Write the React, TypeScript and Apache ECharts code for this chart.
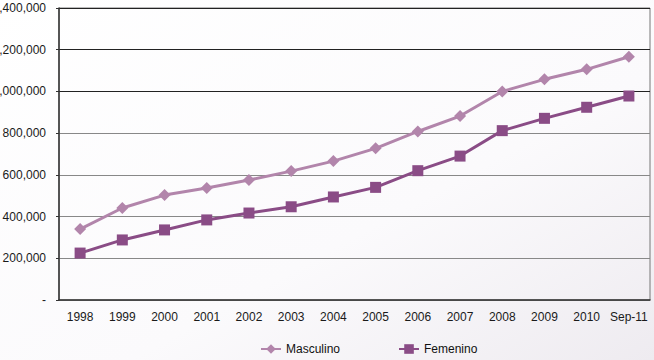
import React, { useEffect, useRef } from "react";
import * as echarts from "echarts";

const categories = ["1998", "1999", "2000", "2001", "2002", "2003", "2004", "2005", "2006", "2007", "2008", "2009", "2010", "Sep-11"];
const masculino = [340000, 441000, 503000, 537000, 575000, 618000, 666000, 727000, 808000, 882000, 1000000, 1058000, 1106000, 1166000];
const femenino = [225000, 288000, 336000, 384000, 417000, 447000, 494000, 540000, 620000, 690000, 812000, 871000, 924000, 978000];
const yTickLabels: Record<number, string> = {
  0: "-",
  200000: "200,000",
  400000: "400,000",
  600000: "600,000",
  800000: "800,000",
  1000000: "1,000,000",
  1200000: "1,200,000",
  1400000: "1,400,000",
};

export default function App() {
  const ref = useRef<HTMLDivElement>(null);
  useEffect(() => {
    if (!ref.current) return;
    const chart = echarts.init(ref.current, null, { renderer: "svg" });
    const font = "'Liberation Sans', Arial, sans-serif";
    chart.setOption({
      animation: false,
      backgroundColor: new echarts.graphic.LinearGradient(0, 0, 1, 1, [
        { offset: 0, color: "#ffffff" },
        { offset: 0.6, color: "#fbfafc" },
        { offset: 1, color: "#eeebf0" },
      ]),
      grid: {
        left: 59,
        right: 4,
        top: 8,
        bottom: 60,
        containLabel: false,
        outerBoundsMode: "none",
        show: true,
        borderColor: "#777",
        borderWidth: 1,
        backgroundColor: "transparent",
      },
      legend: {
        bottom: 0,
        left: 255,
        itemGap: 58,
        itemWidth: 20,
        itemHeight: 12,
        textStyle: { fontFamily: font, fontSize: 12, color: "#111" },
        data: ["Masculino", "Femenino"],
      },
      xAxis: {
        type: "category",
        data: categories,
        boundaryGap: true,
        axisLine: { lineStyle: { color: "#333", width: 1.5 } },
        axisTick: { show: false },
        axisLabel: { fontFamily: font, fontSize: 12, color: "#1a1a1a", margin: 11, interval: 0 },
      },
      yAxis: {
        type: "value",
        min: 0,
        max: 1400000,
        interval: 200000,
        axisLine: { show: true, lineStyle: { color: "#333", width: 1.5 } },
        axisTick: { show: true, length: 3, lineStyle: { color: "#333" } },
        axisLabel: {
          fontFamily: font,
          fontSize: 12,
          color: "#1a1a1a",
          margin: 13,
          formatter: (v: number) => yTickLabels[v] ?? String(v),
        },
        splitLine: {
          show: true,
          lineStyle: {
            color: ["#888", "#888", "#888", "#888", "#888", "#222", "#222", "#222"],
            width: 1.2,
          },
        },
      },
      series: [
        {
          name: "Masculino",
          type: "line",
          data: masculino,
          symbol: "diamond",
          symbolSize: 12,
          itemStyle: { color: "#b285ab" },
          lineStyle: { color: "#b285ab", width: 3 },
          z: 3,
        },
        {
          name: "Femenino",
          type: "line",
          data: femenino,
          symbol: "rect",
          symbolSize: 11,
          itemStyle: { color: "#8a4c86" },
          lineStyle: { color: "#8a4c86", width: 3 },
          z: 4,
        },
      ],
    });
    return () => chart.dispose();
  }, []);
  return (
    <div
      ref={ref}
      style={{ position: "fixed", left: 0, top: 0, width: 654, height: 360 }}
    />
  );
}
